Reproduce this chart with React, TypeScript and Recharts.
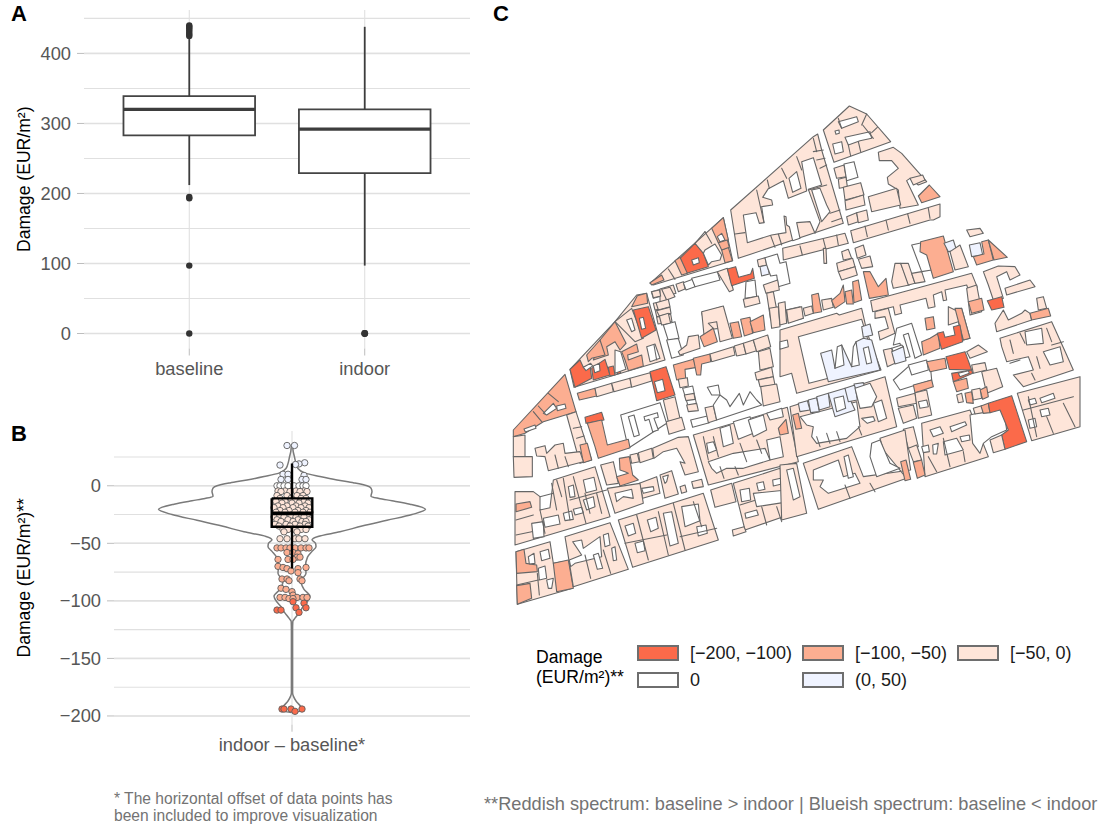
import {
  CartesianGrid,
  Curve,
  ReferenceArea,
  ReferenceLine,
  Scatter,
  ScatterChart,
  XAxis,
  YAxis,
} from "recharts"

const FONT = '"Liberation Sans", Arial, sans-serif'
const GRID_COLOR = "#e0e0e0"
const TICK_TEXT = "#565656"
const FOOT_TEXT = "#737373"
const MAP_LINE = "#666666"

const FILLS: Record<string, string> = {
  d: "#fb6a4a",
  m: "#fcae91",
  l: "#fee5d9",
  b: "#eff3ff",
  c: "#ffffff",
  e: "none",
}

// panel A
const boxCategories = ["baseline", "indoor"]
const boxLow = [212, 97]
const boxQ1 = [283, 229]
const boxMedian = [320, 292]
const boxQ3 = [339, 320]
const boxHigh = [425, 438]
const baselineOutliers = [440, 438, 436, 433, 430, 427, 425, 195, 193, 97, 0]
const indoorOutliers = [0, 0]
const aMajor = [0, 100, 200, 300, 400]
const aMinor = [0, 50, 100, 150, 200, 250, 300, 350, 400, 450]

// panel B
const bMajor = [-200, -150, -100, -50, 0]
const bMinor = [-200, -175, -150, -125, -100, -75, -50, -25, 0, 25]
const bWhiskerTop = 19.4
const bQ3 = -10.9
const bMedian = -24
const bQ1 = -35.6
const bWhiskerBottom = -71.8
const violinValues = [
  36, 30, 25, 21, 15, 11, 8, 5, 2.5, 0, -2, -5, -9, -11, -13, -16, -20.5, -25, -30, -35, -40, -44, -47, -50, -53, -57,
  -62, -70, -76, -83, -90, -96, -101, -105, -110, -115, -118, -125, -180, -183, -187, -192, -195, -197,
]
const violinHalfWidths = [
  0.6, 1.2, 2.5, 3.5, 6, 13, 28, 45, 62, 75, 79, 80, 79, 87, 100, 118, 133.5, 120, 95, 70, 48, 26, 20, 23.5, 24, 20,
  15.5, 13.5, 14, 9, 12, 18, 15, 11, 7.5, 3, 0.8, 0.6, 0.6, 1.5, 4, 9, 11, 0.5,
]
const swarmRows: [number, number[]][] = [
  [35, [-5, 2.5]],
  [20, [12.7]],
  [19, [7]],
  [18.5, [3.5]],
  [18, [-12]],
  [10, [-9, -4]],
  [9, [12]],
  [5.5, [-11, -4, 10, 14]],
  [0, [-15, -12, -8, -4, 2, 7, 11, 14]],
  [-4.5, [-14, -7, 4, 12]],
  [-5, [-11, -2, 8, 15]],
  [-8.5, [-15, -5, 5, 11]],
  [-11, [-12, -1, 9, 14]],
  [-13.5, [-16, -7, 3, 12]],
  [-15, [-10, 0, 7, 16]],
  [-17.5, [-14, -5, 4, 13]],
  [-19, [-18, -9, 1, 9, 17]],
  [-21.5, [-12, -3, 6, 14]],
  [-23, [-16, -7, 3, 11, 18]],
  [-25.5, [-13, -1, 8, 15]],
  [-27, [-18, -8, 4, 12]],
  [-29.5, [-15, -4, 6, 17]],
  [-31, [-11, 1, 10, 14]],
  [-33.5, [-17, -6, 3, 13]],
  [-35, [-13, -2, 8, 16]],
  [-38, [-9, -4, 3, 9, 14]],
  [-40, [-8, 5]],
  [-46, [-12, -5, 3, 7, 13]],
  [-54, [-15, -11, -6, -2, 3, 9, 14, 17]],
  [-58, [-5, 1]],
  [-59, [6]],
  [-62, [5, 8]],
  [-64, [-14, -4, 1]],
  [-70, [-14]],
  [-71, [-9, 14]],
  [-72, [-5, 6]],
  [-74, [-1]],
  [-75.5, [6]],
  [-81, [-10, -5, 8]],
  [-82.5, [-3, 10]],
  [-89, [-11]],
  [-90, [-6]],
  [-92, [0]],
  [-95, [1]],
  [-97, [-12, -7, 5, 11, 15]],
  [-98, [-3, 1]],
  [-100.7, [1]],
  [-102, [12]],
  [-106, [4, 14]],
  [-108, [-15, -11]],
  [-110, [7]],
  [-194, [-10, -8, -1, 10]],
  [-196, [3]],
]

// panel C, parcels traced on three sheets of the map
const sheetOrigins: Record<string, [number, number]> = { north: [640, 90], west: [500, 280], east: [780, 230] }
const northParcels: [string, string][] = [
  ["l", "550,120 628,48 680,72 752,155 582,217"],
  ["c", "595,95 650,80 655,95 605,115"],
  ["c", "615,142 690,125 695,145 660,152 625,165"],
  ["c", "578,162 605,155 610,185 585,192"],
  ["c", "585,123 597,120 598,130 588,133"],
  ["e", "668,105 700,145"],
  ["e", "680,72 665,105"],
  ["e", "712,112 695,128"],
  ["e", "655,155 662,185"],
  ["e", "625,165 632,198"],
  ["e", "595,85 605,115"],
  ["l", "272,360 520,140 533,132 545,180 610,400 295,505"],
  ["c", "310,375 348,368 358,400 372,398 365,350 398,345 395,330 368,322 385,296 430,272 445,325 500,303 485,215 520,203 545,285 505,298 540,395 525,430 510,395 470,398 480,445 458,452 448,410 440,405 438,380 432,378 438,428 395,435 322,458"],
  ["c", "447,265 470,245 483,295 458,307"],
  ["c", "515,300 540,295 560,345 570,365 545,395"],
  ["e", "285,432 315,428"],
  ["e", "350,300 372,398"],
  ["e", "425,235 440,265"],
  ["e", "382,270 388,295"],
  ["e", "470,200 485,240"],
  ["e", "392,437 405,472"],
  ["e", "415,432 425,465"],
  ["e", "520,145 530,185"],
  ["e", "520,185 550,180"],
  ["e", "530,210 555,205"],
  ["e", "540,235 560,225"],
  ["e", "505,300 560,285"],
  ["e", "570,370 600,360"],
  ["e", "575,395 605,385"],
  ["l", "30,580 250,383 278,512 40,585"],
  ["m", "215,415 250,383 265,450 235,458"],
  ["d", "120,505 165,460 190,490 205,530 140,550"],
  ["m", "30,578 65,555 72,570 35,585"],
  ["m", "105,512 120,502 142,550 125,555"],
  ["c", "195,480 225,462 245,495 240,510 215,515 205,525 190,490"],
  ["c", "232,440 245,430 255,450 240,455"],
  ["m", "245,480 265,472 277,512 255,518"],
  ["m", "235,458 262,450 268,472 245,480"],
  ["c", "155,510 175,503 178,518 160,525"],
  ["e", "85,537 105,568"],
  ["e", "165,460 195,425"],
  ["e", "195,425 215,460"],
  ["l", "715,187 760,172 785,190 860,275 835,285 810,265 800,272 835,345 780,355 775,300 745,282 742,262 775,235 755,212 718,212"],
  ["l", "685,320 770,295 782,345 695,365"],
  ["l", "810,265 848,255 855,270 820,285"],
  ["m", "835,318 868,285 900,320 845,338"],
  ["l", "582,235 612,225 618,260 590,265"],
  ["c", "612,222 642,215 654,262 620,272"],
  ["l", "595,268 618,262 622,290 598,295"],
  ["l", "610,292 662,278 672,315 615,330"],
  ["l", "615,332 670,315 675,345 618,360"],
  ["l", "620,380 650,368 655,395 625,405"],
  ["l", "650,368 680,360 685,390 655,398"],
  ["l", "632,422 900,342 900,380 880,390 870,390 640,458"],
  ["e", "675,408 682,440"],
  ["e", "738,390 745,420"],
  ["e", "803,372 810,400"],
  ["e", "865,355 870,385"],
  ["l", "34,605 62,598 65,618 40,625"],
  ["l", "60,597 100,585 108,610 78,618 80,640 60,640"],
  ["l", "108,583 130,575 135,597 115,605"],
  ["c", "130,578 158,568 165,590 138,600"],
  ["c", "155,565 232,545 240,570 165,590"],
  ["l", "232,545 262,535 280,600 268,605"],
  ["d", "262,537 287,530 296,562 332,552 338,535 343,565 275,587"],
  ["c", "318,575 345,570 350,620 315,625"],
  ["l", "310,628 355,618 360,640 315,652"],
  ["l", "352,510 375,503 380,525 356,530"],
  ["b", "360,530 382,525 388,552 365,558"],
  ["c", "375,503 412,492 420,520 438,515 450,580 415,590 410,555 392,558 380,525"],
  ["l", "370,585 413,570 418,600 378,610"],
  ["l", "380,610 400,605 415,685 392,690"],
  ["l", "388,655 415,650 420,710 395,715"],
  ["l", "415,640 435,635 440,700 420,705"],
  ["l", "438,660 480,650 490,685 445,697"],
  ["l", "185,668 245,650 262,712 198,720"],
  ["l", "40,640 80,632 84,652 45,660"],
  ["l", "46,662 84,652 90,672 50,680"],
  ["l", "50,682 92,672 96,695 54,702"],
]
const westParcels: [string, string][] = [
  ["m", "40,450 195,283 228,395 130,425 75,460 40,470"],
  ["c", "72,447 105,435 108,445 76,456"],
  ["c", "130,400 160,370 170,385 140,405"],
  ["c", "170,378 195,372 198,385 172,392"],
  ["e", "100,395 125,425"],
  ["e", "145,340 175,365"],
  ["e", "115,378 135,400"],
  ["l", "40,470 75,465 75,530 40,530"],
  ["l", "40,530 97,530 97,590 42,592"],
  ["l", "200,405 228,395 275,540 240,550"],
  ["m", "240,495 262,490 275,540 250,548"],
  ["e", "220,445 245,440"],
  ["e", "230,475 252,468"],
  ["l", "105,505 135,497 140,520 165,495 190,490 195,520 240,515 250,545 145,572 135,530 110,528"],
  ["e", "195,530 205,560"],
  ["e", "165,525 175,565"],
  ["l", "210,268 345,125 410,45 440,40 495,240 222,322"],
  ["m", "395,80 412,47 440,40 443,70"],
  ["l", "345,125 395,85 430,175 405,185"],
  ["c", "380,120 395,115 405,150 395,155"],
  ["d", "400,90 445,80 468,150 425,175"],
  ["c", "418,115 430,112 437,145 425,148"],
  ["m", "300,180 345,125 378,190 360,210 345,185 320,200 325,225 280,240"],
  ["m", "260,225 300,180 315,225 275,235 265,245"],
  ["d", "210,268 240,240 250,262 270,255 275,295 225,322"],
  ["d", "275,265 315,238 330,285 280,300"],
  ["d", "325,262 340,258 345,285 330,288"],
  ["d", "350,262 358,260 362,280 352,282"],
  ["c", "250,262 272,250 278,258 258,272"],
  ["c", "280,258 298,250 300,272 284,278"],
  ["m", "365,215 410,192 415,215 383,225 385,240 425,225 430,258 385,272 375,240"],
  ["c", "345,210 362,215 378,268 345,280"],
  ["c", "440,200 465,192 480,235 450,245"],
  ["e", "462,195 470,240"],
  ["l", "455,35 478,30 482,48 460,53"],
  ["l", "485,28 510,22 525,50 500,60"],
  ["l", "468,68 505,58 510,80 475,90"],
  ["l", "470,92 510,82 513,100 478,108"],
  ["l", "478,108 505,100 512,130 485,135"],
  ["c", "490,135 525,125 537,175 505,182"],
  ["c", "500,180 535,175 550,225 515,235"],
  ["l", "535,215 560,195 565,170 595,165 600,205 540,225"],
  ["l", "605,95 670,78 697,175 660,185 650,125 625,130 640,145 612,165"],
  ["m", "600,170 640,145 652,185 612,200"],
  ["m", "690,130 715,125 725,170 700,175"],
  ["m", "722,118 750,112 758,160 733,168"],
  ["m", "750,125 790,105 795,150 760,158"],
  ["m", "232,340 285,325 290,348 238,360"],
  ["l", "285,325 335,310 340,335 290,350"],
  ["l", "335,310 390,295 395,320 342,335"],
  ["l", "390,295 450,278 455,303 395,322"],
  ["d", "450,275 498,260 525,345 470,362"],
  ["c", "463,305 488,298 495,332 472,338"],
  ["l", "490,360 525,350 540,415 505,425"],
  ["l", "498,425 545,412 555,448 507,463"],
  ["c", "362,405 480,368 500,430 385,505"],
  ["c", "385,410 402,405 418,465 402,470"],
  ["c", "432,410 472,398 475,412 462,415 475,450 458,455 447,418 435,422"],
  ["d", "255,412 305,397 312,420 258,430"],
  ["m", "262,430 305,420 322,495 385,478 390,503 295,535 285,500"],
  ["m", "520,255 580,238 590,262 555,268 557,295 530,300"],
  ["m", "580,235 630,222 632,245 605,252 602,285 590,285"],
  ["l", "630,222 700,200 705,225 635,245"],
  ["l", "703,198 730,190 738,222 710,228"],
  ["l", "730,190 760,180 770,212 738,222"],
  ["l", "760,180 803,165 812,200 770,215"],
  ["l", "775,215 810,205 820,260 780,270"],
  ["l", "765,278 815,262 820,290 770,300"],
  ["l", "775,300 820,290 825,315 780,320"],
  ["l", "782,320 830,312 840,365 790,378"],
  ["l", "535,298 562,293 565,318 540,323"],
  ["c", "548,325 578,318 590,375 565,380"],
  ["l", "553,345 582,340 585,358 558,362"],
  ["l", "560,375 590,370 595,392 565,395"],
  ["c", "572,420 622,408 628,428 578,442"],
  ["l", "615,383 640,378 650,420 625,428"],
  ["c", "622,322 655,315 660,345 680,360 690,380 718,340 730,375 750,335 770,360 785,375 650,420 640,375 660,345 635,345"],
  ["l", "302,555 340,545 355,610 320,615"],
  ["m", "358,535 388,530 398,585 415,600 360,618 350,590 385,580 375,575 360,570"],
  ["l", "390,525 412,520 418,545 395,550"],
  ["l", "415,518 455,505 460,535 420,548"],
  ["l", "458,505 535,472 565,470 595,575 555,585 540,545 555,550 530,505 490,515 462,535"],
  ["l", "418,610 470,590 480,640 428,655"],
  ["c", "425,625 460,620 462,632 430,640"],
  ["l", "480,585 515,572 535,642 495,655"],
  ["c", "488,590 505,585 500,605 495,610"],
  ["l", "540,620 555,615 560,635 545,640"],
  ["l", "575,605 605,598 610,620 580,625"],
  ["l", "322,625 420,610 430,670 345,700"],
  ["c", "345,640 395,628 400,655 370,650 350,665"],
  ["l", "160,600 285,560 330,710 45,795 45,635 100,635 120,650 120,690 150,683"],
  ["m", "48,672 90,665 95,682 48,695"],
  ["c", "205,620 220,615 225,650 210,652"],
  ["c", "250,600 282,592 290,630 258,638"],
  ["c", "130,715 175,705 180,732 135,742"],
  ["c", "190,700 215,693 220,718 195,722"],
  ["c", "220,688 245,682 250,698 225,705"],
  ["c", "250,660 280,650 285,680 260,690"],
  ["c", "95,730 130,725 132,770 100,775"],
  ["e", "190,595 210,720"],
  ["e", "220,590 258,730"],
  ["e", "155,610 170,690"],
  ["e", "48,720 100,705"],
  ["e", "48,765 95,755"],
  ["e", "120,650 160,640"],
  ["e", "210,660 320,630"],
  ["e", "120,690 135,760"],
  ["e", "170,600 185,650"],
  ["e", "255,640 270,700"],
  ["e", "290,640 305,700"],
  ["l", "355,720 610,640 655,780 398,862"],
  ["c", "375,738 400,730 407,760 385,768"],
  ["c", "442,720 468,712 475,745 452,755"],
  ["c", "545,680 595,672 600,722 555,740"],
  ["c", "405,790 430,783 435,812 412,818"],
  ["c", "490,700 515,695 535,790 510,798"],
  ["c", "590,740 618,735 622,760 595,768"],
  ["e", "375,790 500,765"],
  ["e", "410,705 445,840"],
  ["e", "475,695 505,825"],
  ["e", "520,670 555,810"],
  ["e", "580,665 605,740"],
  ["e", "540,770 650,745"],
  ["l", "48,815 150,785 160,850 190,845 218,925 52,973"],
  ["m", "48,815 72,808 78,850 110,855 112,875 50,880"],
  ["m", "160,850 205,840 220,925 170,935"],
  ["m", "50,917 90,910 95,955 52,973"],
  ["c", "85,830 102,820 105,850 88,852"],
  ["c", "120,815 145,808 150,835 125,842"],
  ["c", "115,865 135,858 140,895 118,900"],
  ["c", "140,900 160,895 155,925 145,925"],
  ["e", "50,915 115,900"],
  ["e", "112,880 118,945"],
  ["l", "195,770 330,728 385,868 220,920"],
  ["c", "218,785 245,780 250,805 300,770 305,830 225,850 212,860 208,840 245,825"],
  ["c", "280,825 295,820 308,865 292,868"],
  ["c", "310,765 325,760 330,795 315,800"],
  ["c", "335,805 345,800 350,840 340,842"],
  ["e", "255,825 272,895"],
  ["e", "310,810 332,880"],
  ["l", "632,630 695,610 708,665 645,682"],
  ["l", "700,610 840,565 880,700 735,750"],
  ["c", "720,630 748,625 752,660 725,665"],
  ["c", "770,610 790,605 795,628 775,632"],
  ["c", "818,600 842,595 845,612 820,618"],
  ["c", "735,700 770,690 775,705 738,715"],
  ["e", "720,675 785,655"],
  ["e", "785,680 800,735"],
  ["e", "830,680 845,725"],
  ["l", "697,750 732,740 738,755 700,768"],
  ["c", "760,640 860,630 868,665 770,680"],
  ["l", "580,465 862,382 895,545 625,615"],
  ["c", "620,490 640,485 650,510 625,520"],
  ["c", "660,445 690,435 700,490 670,500"],
  ["c", "700,425 750,410 760,460 715,478"],
  ["c", "745,420 790,405 800,450 760,470"],
  ["c", "800,400 845,385 850,410 810,420"],
  ["c", "625,545 700,520 795,505 810,540 730,565 680,565 650,580 635,565"],
  ["c", "800,480 840,470 850,530 810,540"],
  ["m", "835,445 858,418 865,460 840,465"],
  ["e", "610,470 625,540"],
  ["e", "660,560 672,595"],
  ["e", "705,560 715,585"],
  ["e", "640,470 655,530"],
  ["e", "720,490 740,545"],
  ["e", "770,480 785,520"],
]
const eastParcels: [string, string][] = [
  ["l", "8,55 195,10 205,40 10,90"],
  ["e", "60,48 67,75"],
  ["e", "130,28 137,55"],
  ["e", "170,15 175,45"],
  ["l", "130,55 138,55 140,100 132,100"],
  ["l", "185,65 205,58 215,85 190,90"],
  ["l", "170,100 218,85 225,110 175,125"],
  ["l", "175,125 225,110 232,135 185,150"],
  ["l", "225,55 250,45 258,75 232,85"],
  ["l", "235,88 270,78 278,110 245,115"],
  ["m", "250,125 270,125 295,170 318,145 325,195 268,205"],
  ["l", "335,155 345,100 362,100 388,165 340,175"],
  ["l", "362,100 385,100 405,160 385,165"],
  ["l", "395,130 425,125 435,155 405,160"],
  ["c", "395,45 425,38 435,65 450,70 455,120 425,125"],
  ["m", "422,35 490,18 520,125 460,145 440,75 420,65"],
  ["b", "492,40 520,30 530,62 505,65"],
  ["l", "510,65 540,45 565,110 525,120"],
  ["b", "568,45 600,38 608,75 575,80"],
  ["m", "580,80 612,72 605,35 625,30 640,90 590,105"],
  ["m", "625,30 682,82 642,90"],
  ["l", "560,0 600,-5 610,10 570,20"],
  ["m", "95,195 115,190 125,245 100,250"],
  ["l", "20,240 65,230 70,265 25,280"],
  ["l", "70,235 95,228 100,250 75,258"],
  ["l", "125,210 155,205 160,232 130,240"],
  ["m", "155,212 180,190 190,165 195,215 165,235"],
  ["m", "195,185 215,180 220,222 200,222"],
  ["m", "218,155 235,150 245,210 222,218"],
  ["l", "272,212 575,130 592,172 565,178 560,165 495,180 500,210 490,212 485,185 460,195 465,230 445,235 438,205 360,225 365,250 345,255 340,230 278,245"],
  ["l", "285,245 325,235 345,310 300,330 295,305 325,295 315,260 285,265"],
  ["l", "560,175 590,165 605,245 570,255"],
  ["m", "565,215 605,205 612,240 575,250"],
  ["l", "505,230 525,240 545,235 570,325 550,330 535,275 505,285"],
  ["m", "525,235 545,235 570,325 550,330"],
  ["c", "350,295 395,280 425,375 405,385 385,310 370,315 390,380 370,385 360,340 340,345"],
  ["c", "335,355 365,345 370,350 340,365"],
  ["l", "310,360 335,355 345,400 322,410"],
  ["b", "335,365 370,350 378,392 345,402"],
  ["m", "435,265 460,260 465,295 440,300"],
  ["m", "425,335 450,325 475,310 480,355 430,375"],
  ["d", "472,310 490,305 495,322 525,315 520,290 540,285 548,335 485,358"],
  ["l", "0,300 170,250 178,255 245,235 262,310 303,420 50,490 35,430 0,440"],
  ["c", "55,320 245,268 285,400 145,445 87,460"],
  ["c", "0,335 22,330 25,350 0,358"],
  ["b", "245,290 270,282 278,315 250,322"],
  ["b", "122,370 155,360 165,415 185,345 215,410 228,335 250,325 275,330 300,420 145,455"],
  ["c", "165,415 172,350 185,345 192,405"],
  ["c", "215,410 220,350 228,335 238,405"],
  ["c", "250,355 265,350 275,398 260,402"],
  ["l", "30,530 315,440 350,590 50,680"],
  ["c", "60,560 100,550 230,515 240,590 200,625 110,640 95,620 100,590 80,585"],
  ["b", "55,520 82,512 90,540 60,545"],
  ["b", "85,510 110,503 118,545 92,548"],
  ["b", "110,500 145,490 150,530 118,540"],
  ["b", "145,490 195,475 225,540 165,560"],
  ["c", "162,505 190,498 197,535 170,545"],
  ["b", "195,475 225,465 232,510 205,515"],
  ["b", "222,462 250,458 260,490 235,500"],
  ["m", "38,555 55,550 65,595 48,598"],
  ["c", "225,475 270,460 290,500 275,530 240,535"],
  ["c", "280,520 305,510 320,565 295,575"],
  ["c", "245,565 280,560 285,572 262,580"],
  ["e", "110,620 120,650"],
  ["e", "140,610 150,640"],
  ["e", "170,605 180,635"],
  ["e", "235,590 245,615"],
  ["c", "340,450 385,410 450,395 455,450 360,480"],
  ["c", "385,405 440,390 445,420 395,435"],
  ["m", "440,395 495,385 500,415 450,425"],
  ["d", "498,380 555,365 575,420 508,418"],
  ["d", "515,430 575,420 578,430 520,455"],
  ["c", "535,430 565,422 568,430 540,440"],
  ["m", "400,465 455,450 460,470 405,488"],
  ["l", "560,365 595,345 622,365 570,385"],
  ["l", "575,405 615,398 620,420 580,430"],
  ["l", "605,425 650,415 668,470 620,490"],
  ["m", "520,455 560,445 565,475 530,485"],
  ["m", "555,490 575,485 580,520 560,518"],
  ["m", "600,480 620,470 625,500 608,508"],
  ["l", "575,480 600,475 605,505 580,510"],
  ["l", "530,495 545,490 550,515 535,518"],
  ["l", "350,505 405,490 410,520 355,530"],
  ["l", "405,488 440,480 455,555 415,565"],
  ["c", "415,515 440,510 445,530 420,535"],
  ["l", "355,535 400,525 410,565 370,580"],
  ["l", "610,125 655,108 705,110 720,135 690,150 680,125 650,140 670,205 640,210 625,165"],
  ["d", "622,212 665,200 672,232 635,240"],
  ["l", "675,175 750,150 765,170 680,195"],
  ["l", "645,280 670,240 685,270 725,250 735,240 750,250 755,270 650,305"],
  ["l", "770,205 790,200 800,235 775,240"],
  ["m", "750,250 805,235 812,258 755,270"],
  ["l", "660,325 815,275 860,375 880,420 730,470 700,435 760,420 745,380 680,395 665,350"],
  ["c", "735,305 785,295 790,340 740,345"],
  ["c", "790,365 840,350 850,395 810,405"],
  ["e", "720,310 735,340"],
  ["e", "800,295 815,335"],
  ["e", "755,430 765,450"],
  ["e", "690,330 700,370"],
  ["e", "815,345 850,335"],
  ["e", "690,400 720,390"],
  ["e", "770,380 780,415"],
  ["l", "370,598 400,590 415,650 385,655"],
  ["l", "385,655 410,645 425,690 400,695"],
  ["l", "425,580 570,540 625,680 435,740"],
  ["c", "450,600 480,590 490,610 460,620"],
  ["c", "510,590 555,575 560,585 515,605"],
  ["c", "425,650 445,645 448,665 430,668"],
  ["c", "458,645 475,640 470,672 460,672"],
  ["c", "490,635 530,625 550,660 495,675"],
  ["c", "540,620 568,615 570,630 545,635"],
  ["m", "400,697 425,690 435,735 412,745"],
  ["c", "570,555 670,530 680,600 635,620 610,640 600,670 578,640"],
  ["l", "580,535 605,527 610,548 585,552"],
  ["m", "603,528 625,520 630,548 610,550"],
  ["d", "625,520 695,497 740,635 675,658 665,615 685,600 660,540 630,548"],
  ["l", "630,630 665,615 675,658 640,668"],
  ["e", "445,680 470,725"],
  ["e", "490,625 510,710"],
  ["e", "550,665 555,695"],
  ["l", "712,490 900,440 900,590 755,632"],
  ["c", "745,510 765,505 770,520 750,525"],
  ["c", "780,505 820,490 825,505 785,518"],
  ["c", "745,570 765,565 770,590 750,595"],
  ["c", "780,540 805,535 810,555 785,560"],
  ["e", "730,540 880,500"],
  ["e", "800,560 820,610"],
  ["e", "850,520 885,590"],
  ["e", "745,500 770,620"],
  ["l", "70,700 215,650 250,740 392,720 375,600 300,625 310,660 380,745 115,838"],
  ["c", "100,720 175,690 190,740 225,730 240,760 145,790 120,770 130,750 100,750"],
  ["c", "275,640 300,630 330,700 360,715 290,740 270,680"],
  ["c", "192,680 205,675 220,740 205,745"],
  ["m", "362,695 378,690 392,748 375,752"],
  ["e", "195,765 210,805"],
  ["e", "270,760 285,785"],
  ["l", "0,705 50,700 80,850 5,870"],
  ["c", "20,720 40,715 60,800 40,810"],
]

type Parcel = { fill: string; size: number }
const parcels: Parcel[] = []
const mapVertices: { x: number; y: number }[] = []
function addSheet(sheet: string, rows: [string, string][]) {
  const [ox, oy] = sheetOrigins[sheet]
  rows.forEach(([code, ring]) => {
    const pairs = ring.split(" ")
    parcels.push({ fill: FILLS[code], size: pairs.length })
    pairs.forEach((pair) => {
      const [zx, zy] = pair.split(",").map(Number)
      mapVertices.push({ x: ox + zx / 3, y: oy + zy / 3 })
    })
  })
}
addSheet("north", northParcels)
addSheet("west", westParcels)
addSheet("east", eastParcels)

const legendRows = [
  [
    { label: "[−200, −100)", fill: FILLS.d },
    { label: "[−100, −50)", fill: FILLS.m },
    { label: "[−50, 0)", fill: FILLS.l },
  ],
  [
    { label: "0", fill: "#ffffff" },
    { label: "(0, 50)", fill: FILLS.b },
  ],
]

const swarmPoints = swarmRows.flatMap(([value, offsets]) => offsets.map((x) => ({ x, y: value })))
const violinLeft = violinValues.map((y, i) => ({ x: -violinHalfWidths[i], y }))
const violinRight = violinValues.map((y, i) => ({ x: violinHalfWidths[i], y }))
const boxHalf = 20.3
const boxOutline = [
  { x: -boxHalf, y: bQ3 },
  { x: boxHalf, y: bQ3 },
  { x: boxHalf, y: bQ1 },
  { x: -boxHalf, y: bQ1 },
  { x: -boxHalf, y: bQ3 },
]

const noDot = () => <g />
const dot = (fill: string) => (p: any) => (
  <circle cx={p.cx} cy={p.cy} r={3.2} fill={fill} stroke="#5e5e5e" strokeWidth={0.9} />
)
const solidDot = (r: number) => (p: any) => <circle cx={p.cx} cy={p.cy} r={r} fill="#333333" />
const violinLine = (p: any) => (
  <Curve points={p.points} type="monotoneY" stroke="#7a7a7a" strokeWidth={1.5} fill="none" />
)

function drawParcels(p: any) {
  let at = 0
  return (
    <g>
      {parcels.map((parcel, i) => {
        const pts = p.points.slice(at, at + parcel.size)
        at += parcel.size
        const d = pts.map((v: any, k: number) => `${k ? "L" : "M"}${v.x} ${v.y}`).join("") + "Z"
        return <path key={i} d={d} fill={parcel.fill} stroke={MAP_LINE} strokeWidth={1.1} strokeLinejoin="round" />
      })}
    </g>
  )
}

const tickStyle = { fontSize: 18.3, fill: TICK_TEXT, fontFamily: FONT }
const titleStyle = { fontSize: 17.6, fill: "#000000", fontFamily: FONT, textAnchor: "middle" as const }

function PanelA() {
  return (
    <ScatterChart width={480} height={390} margin={{ top: 10, right: 10, bottom: 0, left: 0 }}>
      <CartesianGrid horizontalValues={aMinor} verticalValues={[1, 2]} stroke={GRID_COLOR} strokeWidth={1.1} />
      <CartesianGrid horizontalValues={aMajor} vertical={false} stroke={GRID_COLOR} strokeWidth={1.5} />
      <XAxis
        type="number"
        dataKey="x"
        domain={[0.4, 2.6]}
        ticks={[1, 2]}
        tickFormatter={(v) => boxCategories[v - 1]}
        height={41.5}
        tickSize={7}
        tickMargin={7}
        axisLine={false}
        tickLine={{ stroke: "#bdbdbd" }}
        tick={tickStyle}
      />
      <YAxis
        type="number"
        dataKey="y"
        domain={[-21.4, 462]}
        ticks={aMajor}
        width={84}
        tickSize={7}
        tickMargin={6}
        axisLine={false}
        tickLine={{ stroke: "#bdbdbd" }}
        tick={tickStyle}
        label={{ value: "Damage (EUR/m²)", angle: -90, position: "center", dx: -18, style: titleStyle }}
      />
      {boxCategories.map((_, i) => (
        <ReferenceLine
          key={`wl${i}`}
          segment={[
            { x: i + 1, y: boxLow[i] },
            { x: i + 1, y: boxQ1[i] },
          ]}
          stroke="#3d3d3d"
          strokeWidth={1.8}
        />
      ))}
      {boxCategories.map((_, i) => (
        <ReferenceLine
          key={`wh${i}`}
          segment={[
            { x: i + 1, y: boxQ3[i] },
            { x: i + 1, y: boxHigh[i] },
          ]}
          stroke="#3d3d3d"
          strokeWidth={1.8}
        />
      ))}
      {boxCategories.map((_, i) => (
        <ReferenceArea
          key={`b${i}`}
          x1={i + 1 - 0.375}
          x2={i + 1 + 0.375}
          y1={boxQ1[i]}
          y2={boxQ3[i]}
          fill="#ffffff"
          fillOpacity={1}
          stroke="#444444"
          strokeWidth={1.8}
        />
      ))}
      {boxCategories.map((_, i) => (
        <ReferenceLine
          key={`m${i}`}
          segment={[
            { x: i + 1 - 0.375, y: boxMedian[i] },
            { x: i + 1 + 0.375, y: boxMedian[i] },
          ]}
          stroke="#3d3d3d"
          strokeWidth={3.2}
        />
      ))}
      <Scatter data={baselineOutliers.map((y) => ({ x: 1, y }))} shape={solidDot(3.2)} isAnimationActive={false} />
      <Scatter data={indoorOutliers.map((y) => ({ x: 2, y }))} shape={solidDot(3.4)} isAnimationActive={false} />
    </ScatterChart>
  )
}

function PanelB() {
  const light = swarmPoints.filter((p) => p.y < 0 && p.y >= -50)
  const medium = swarmPoints.filter((p) => p.y < -50 && p.y >= -100)
  const dark = swarmPoints.filter((p) => p.y < -100)
  const blue = swarmPoints.filter((p) => p.y > 0)
  const zero = swarmPoints.filter((p) => p.y === 0)
  return (
    <ScatterChart width={480} height={340} margin={{ top: 11, right: 10, bottom: 0, left: 0 }}>
      <CartesianGrid horizontalValues={bMinor} verticalValues={[0]} stroke={GRID_COLOR} strokeWidth={1.1} />
      <CartesianGrid horizontalValues={bMajor} vertical={false} stroke={GRID_COLOR} strokeWidth={1.5} />
      <XAxis
        type="number"
        dataKey="x"
        domain={[-178, 178]}
        ticks={[0]}
        tickFormatter={() => "indoor – baseline*"}
        height={35.3}
        tickSize={7}
        tickMargin={6}
        axisLine={false}
        tickLine={{ stroke: "#bdbdbd" }}
        tick={tickStyle}
      />
      <YAxis
        type="number"
        dataKey="y"
        domain={[-207.6, 47.6]}
        ticks={bMajor}
        tickFormatter={(v) => String(v).replace("-", "−")}
        width={114}
        tickSize={7}
        tickMargin={6}
        axisLine={false}
        tickLine={{ stroke: "#bdbdbd" }}
        tick={tickStyle}
        label={{ value: "Damage (EUR/m²)**", angle: -90, position: "center", dx: -33, style: titleStyle }}
      />
      <Scatter data={violinLeft} line={violinLine} shape={noDot} isAnimationActive={false} />
      <Scatter data={violinRight} line={violinLine} shape={noDot} isAnimationActive={false} />
      <Scatter data={zero} shape={dot("#ffffff")} isAnimationActive={false} />
      <Scatter data={blue} shape={dot(FILLS.b)} isAnimationActive={false} />
      <Scatter data={light} shape={dot(FILLS.l)} isAnimationActive={false} />
      <Scatter data={medium} shape={dot(FILLS.m)} isAnimationActive={false} />
      <Scatter data={dark} shape={dot(FILLS.d)} isAnimationActive={false} />
      <Scatter
        data={[
          { x: 0, y: bWhiskerTop },
          { x: 0, y: bQ3 },
        ]}
        line={{ stroke: "#000000", strokeWidth: 2.4 }}
        shape={noDot}
        isAnimationActive={false}
      />
      <Scatter
        data={[
          { x: 0, y: bQ1 },
          { x: 0, y: bWhiskerBottom },
        ]}
        line={{ stroke: "#000000", strokeWidth: 2.4 }}
        shape={noDot}
        isAnimationActive={false}
      />
      <Scatter data={boxOutline} line={{ stroke: "#000000", strokeWidth: 2.4 }} shape={noDot} isAnimationActive={false} />
      <Scatter
        data={[
          { x: -boxHalf, y: bMedian },
          { x: boxHalf, y: bMedian },
        ]}
        line={{ stroke: "#000000", strokeWidth: 3.6 }}
        shape={noDot}
        isAnimationActive={false}
      />
    </ScatterChart>
  )
}

function PanelC() {
  return (
    <ScatterChart width={621} height={530} margin={{ top: 0, right: 0, bottom: 0, left: 0 }}>
      <XAxis type="number" dataKey="x" domain={[480, 1101]} hide />
      <YAxis type="number" dataKey="y" domain={[90, 620]} reversed hide />
      <Scatter data={mapVertices} line={drawParcels} shape={noDot} isAnimationActive={false} />
    </ScatterChart>
  )
}

const place = (left: number, top: number, extra: object = {}) => ({ position: "absolute" as const, left, top, ...extra })

function MapLegend() {
  const columns = [637, 802, 957]
  const rowsTop = [645, 672]
  return (
    <>
      <div style={place(536, 647, { fontSize: 17.6, lineHeight: "20px", color: "#000", whiteSpace: "nowrap" })}>
        Damage
        <br />
        (EUR/m²)**
      </div>
      {legendRows.map((row, r) =>
        row.map((item, c) => (
          <div key={item.label}>
            <div
              style={place(columns[c], rowsTop[r], {
                width: 38,
                height: 12,
                background: item.fill,
                border: "2px solid #6e6e6e",
              })}
            />
            <div
              style={place(columns[c] + 53, rowsTop[r] - 2, {
                fontSize: 18,
                lineHeight: "20px",
                color: "#1a1a1a",
                whiteSpace: "nowrap",
              })}
            >
              {item.label}
            </div>
          </div>
        ))
      )}
    </>
  )
}

export default function App() {
  return (
    <div style={{ position: "absolute", left: 0, top: 0, width: 1101, height: 824, background: "#fff", fontFamily: FONT, overflow: "hidden" }}>
      <div style={place(0, 0)}>
        <PanelA />
      </div>
      <div style={place(0, 420)}>
        <PanelB />
      </div>
      <div style={place(480, 90)}>
        <PanelC />
      </div>
      <div style={place(11, 1, { fontSize: 22, fontWeight: 700 })}>A</div>
      <div style={place(11, 421, { fontSize: 22, fontWeight: 700 })}>B</div>
      <div style={place(493, 1, { fontSize: 22, fontWeight: 700 })}>C</div>
      <MapLegend />
      <div style={place(114, 790, { fontSize: 15.6, lineHeight: "17px", color: FOOT_TEXT, whiteSpace: "nowrap" })}>
        * The horizontal offset of data points has
        <br />
        been included to improve visualization
      </div>
      <div style={place(484, 794, { fontSize: 18.2, lineHeight: "21px", color: FOOT_TEXT, whiteSpace: "nowrap" })}>
        **Reddish spectrum: baseline &gt; indoor | Blueish spectrum: baseline &lt; indoor
      </div>
    </div>
  )
}
